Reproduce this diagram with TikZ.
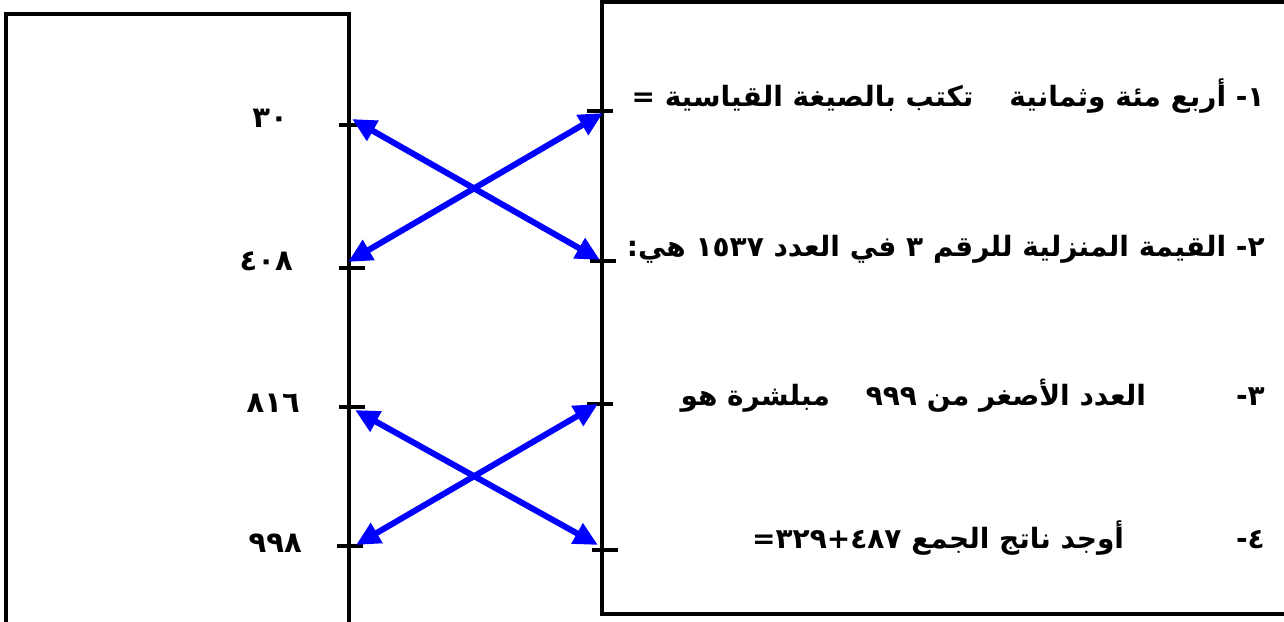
\documentclass[tikz,border=0pt]{standalone}
\usepackage{fontspec}
\newfontfamily\arabicfont[Script=Arabic]{DejaVu Sans}
\TeXXeTstate=1
\usetikzlibrary{arrows.meta}
\definecolor{linkblue}{RGB}{0,0,255}
\begin{document}
\begin{tikzpicture}[x=1pt,y=-1pt,
  box/.style={draw=black,line width=4pt},
  tickmark/.style={draw=black,line width=4.5pt},
  link/.style={draw=linkblue,line width=6pt,
    {Triangle[length=24pt,width=22pt]}-{Triangle[length=24pt,width=22pt]}},
  qtext/.style={font=\arabicfont\bfseries\fontsize{28}{32}\selectfont,
    inner sep=0pt,anchor=base east},
  ntext/.style={font=\arabicfont\bfseries\fontsize{29}{32}\selectfont,
    inner sep=0pt,anchor=base east}]
\useasboundingbox (0,0) rectangle (1284,621);
\fill[white] (0,0) rectangle (1284,621);
% boxes
\draw[box] (6,14) rectangle (349,630);
\draw[box] (602,1.5) rectangle (1295,614);
% ticks
\draw[tickmark] (339,125) coordinate (l1a) -- (365,125) coordinate (l1b);
\draw[tickmark] (339,268) coordinate (l2a) -- (365,268) coordinate (l2b);
\draw[tickmark] (339,407) coordinate (l3a) -- (365,407) coordinate (l3b);
\draw[tickmark] (337,546) coordinate (l4a) -- (363,546) coordinate (l4b);
\draw[tickmark] (587,111) coordinate (r1a) -- (613,111) coordinate (r1b);
\draw[tickmark] (590,261) coordinate (r2a) -- (616,261) coordinate (r2b);
\draw[tickmark] (587,404) coordinate (r3a) -- (613,404) coordinate (r3b);
\draw[tickmark] (592,550) coordinate (r4a) -- (618,550) coordinate (r4b);
% arrow ends
\coordinate (e1) at (352,119);
\coordinate (f2) at (600,260);
\coordinate (e2) at (348,262);
\coordinate (f1) at (603,113);
\coordinate (e3) at (355,410);
\coordinate (f4) at (598,545);
\coordinate (e4) at (356,545);
\coordinate (f3) at (598,404);
\draw[link] (e1) -- (f2);
\draw[link] (e2) -- (f1);
\draw[link] (e3) -- (f4);
\draw[link] (e4) -- (f3);
% left numbers
\node[ntext] (n1) at (288,127) {٣٠};
\node[ntext] (n2) at (293,270) {٤٠٨};
\node[ntext] (n3) at (300,412) {٨١٦};
\node[ntext] (n4) at (302,552) {٩٩٨};
% questions
\node[qtext] (q1) at (1265,106) {\beginR ١- أربع مئة وثمانية\hspace{36pt}تكتب بالصيغة القياسية =\endR};
\node[qtext] (q2) at (1265,256) {\beginR ٢- القيمة المنزلية للرقم ٣ في العدد ١٥٣٧ هي:\endR};
\node[qtext] (q3) at (1265,405) {\beginR ٣-\hspace{90pt}العدد الأصغر من ٩٩٩\hspace{36pt}مبلشرة هو\endR};
\node[qtext] (q4) at (1265,548) {\beginR ٤-\hspace{112pt}أوجد ناتج الجمع ٤٨٧+٣٢٩=\endR};
\end{tikzpicture}
\end{document}
